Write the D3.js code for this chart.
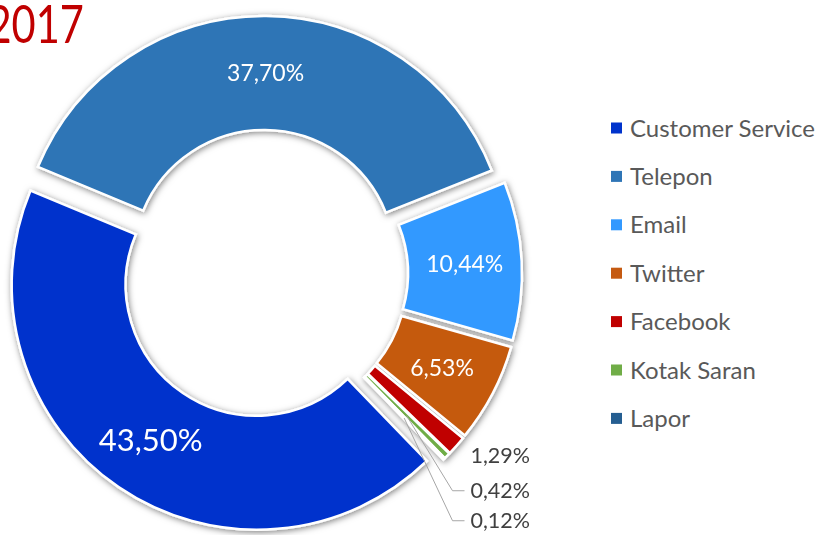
<!DOCTYPE html>
<html>
<head>
<meta charset="utf-8">
<script src="https://cdn.jsdelivr.net/npm/d3@7"></script>
<style>
    html, body { margin: 0; padding: 0; background: #fff; }
    svg { display: block; font-family: Lato, "Open Sans", sans-serif; }
</style>
</head>
<body>
<div id="chart"></div>
<script>
const title = "2017"
const categories = ["Customer Service", "Telepon", "Email", "Twitter", "Facebook", "Kotak Saran", "Lapor"]
const values = [43.5, 37.7, 10.44, 6.53, 1.29, 0.42, 0.12]
const colors = ["#0033CC", "#2E75B6", "#3399FF", "#C55A11", "#C00000", "#70AD47", "#255E91"]

const width = 825
const height = 535
const cx = 264
const cy = 274
const outerR = 245
const innerR = 131
const explode = 13
const startAngle = (136 * Math.PI) / 180

const data = categories.map((name, i) => ({ name, value: values[i], color: colors[i] }))
const fmt = (v) => d3.format(".2f")(v).replace(".", ",") + "%"

const svg = d3.select("#chart").append("svg").attr("width", width).attr("height", height)

const defs = svg.append("defs")
const shadow = defs.append("filter").attr("id", "shadow").attr("x", "-20%").attr("y", "-20%").attr("width", "140%").attr("height", "140%")
shadow.append("feDropShadow").attr("dx", 1).attr("dy", 1.5).attr("stdDeviation", 3).attr("flood-color", "#000").attr("flood-opacity", 0.5)

const pie = d3
    .pie()
    .sort(null)
    .value((d) => d.value)
    .startAngle(startAngle)
    .endAngle(startAngle + 2 * Math.PI)

const arcs = pie(data)
const arc = d3.arc().innerRadius(innerR).outerRadius(outerR)

// offset along the slice bisector
const shift = (d, dist) => {
    const a = (d.startAngle + d.endAngle) / 2
    return [Math.sin(a) * dist, -Math.cos(a) * dist]
}

const pieGroup = svg.append("g").attr("transform", `translate(${cx},${cy})`)

pieGroup
    .append("g")
    .attr("filter", "url(#shadow)")
    .selectAll("path")
    .data(arcs)
    .enter()
    .append("path")
    .attr("d", arc)
    .attr("transform", (d) => `translate(${shift(d, explode)})`)
    .attr("fill", (d) => d.data.color)
    .attr("stroke", "#fff")
    .attr("stroke-width", 2.5)
    .attr("stroke-linejoin", "miter")

// --- inside labels ---
const inside = arcs.filter((d) => d.data.value >= 5)
pieGroup
    .selectAll(".in-label")
    .data(inside)
    .enter()
    .append("text")
    .attr("class", "in-label")
    .attr("x", (d) => arc.centroid(d)[0] + shift(d, explode)[0])
    .attr("y", (d) => arc.centroid(d)[1] + shift(d, explode)[1])
    .attr("dy", "0.36em")
    .attr("text-anchor", "middle")
    .attr("fill", "#fff")
    .attr("font-size", (d) => (d.index === 0 ? 31 : 23))
    .text((d) => fmt(d.data.value))

// --- outside labels for the thin slices ---
const small = arcs.filter((d) => d.data.value < 5)
const firstOuter = shift(small[0], outerR + explode)
const labelX = firstOuter[0] + 14
const labelY0 = firstOuter[1] + 10

small.forEach((d, i) => {
    const ly = i === 0 ? labelY0 : labelY0 + 35 + (i - 1) * 30
    if (i > 0) {
        const c = arc.centroid(d)
        const s = shift(d, explode)
        const start = [c[0] + s[0], c[1] + s[1]]
        pieGroup
            .append("polyline")
            .attr("points", [start, [labelX - 18, ly], [labelX - 6, ly]].map((p) => p.join(",")).join(" "))
            .attr("fill", "none")
            .attr("stroke", "#A6A6A6")
            .attr("stroke-width", 1)
    }
    pieGroup
        .append("text")
        .attr("x", labelX)
        .attr("y", ly)
        .attr("dy", "0.36em")
        .attr("fill", "#404040")
        .attr("font-size", 21.5)
        .text(fmt(d.data.value))
})

// --- title ---
svg.append("text")
    .attr("transform", "translate(84,43) scale(0.8,1)")
    .attr("text-anchor", "end")
    .attr("fill", "#C00000")
    .attr("font-size", 52)
    .text(title)

// --- legend ---
const legend = svg
    .selectAll(".legend")
    .data(data)
    .enter()
    .append("g")
    .attr("class", "legend")
    .attr("transform", (d, i) => `translate(611,${128 + i * 48.4})`)

legend.append("rect").attr("x", 0).attr("y", -5.5).attr("width", 11).attr("height", 11).attr("fill", (d) => d.color)

legend
    .append("text")
    .attr("x", 19)
    .attr("dy", "0.36em")
    .attr("fill", "#595959")
    .attr("font-size", 24)
    .text((d) => d.name)
</script>
</body>
</html>
